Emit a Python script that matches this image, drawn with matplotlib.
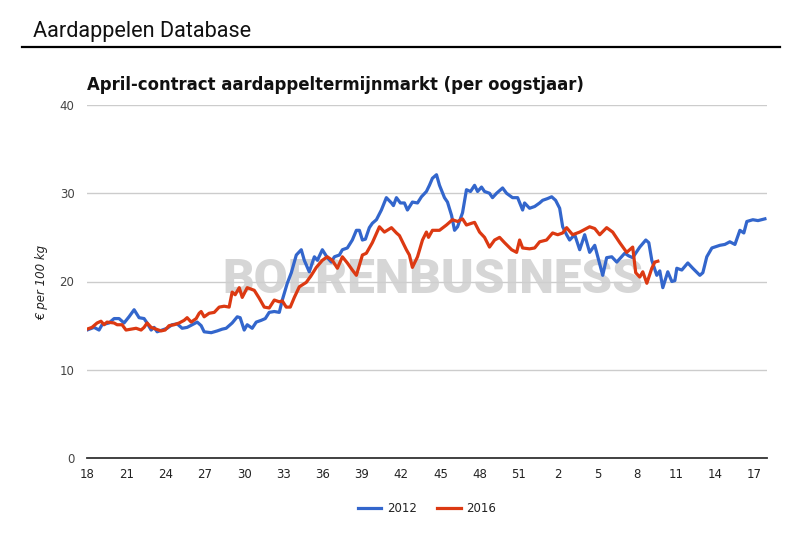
import matplotlib
matplotlib.use("Agg")
import matplotlib.pyplot as plt
import numpy as np

# Gegevens (weken vanaf week 18, prijs in euro per 100 kg)
week_labels = ["18", "21", "24", "27", "30", "33", "36", "39", "42", "45",
               "48", "51", "2", "5", "8", "11", "14", "17"]

x_2012 = [0.0, 0.54, 0.92, 1.15, 1.68, 2.07, 2.45, 2.83, 3.21, 3.60,
          3.98, 4.36, 4.59, 4.90, 5.13, 5.36, 5.74, 6.12, 6.50, 6.89,
          7.27, 7.65, 8.03, 8.42, 8.72, 8.95, 9.49, 9.95, 10.33, 10.63,
          11.09, 11.48, 11.70, 12.01, 12.24, 12.62, 12.93, 13.31, 13.62, 13.92,
          14.31, 14.69, 14.92, 15.30, 15.61, 15.99, 16.37, 16.60, 16.98, 17.37,
          17.60, 17.98, 18.36, 18.67, 18.90, 19.28, 19.51, 19.89, 20.27, 20.58,
          20.81, 21.04, 21.27, 21.57, 21.80, 22.11, 22.49, 22.87, 23.26, 23.41,
          23.64, 23.94, 24.25, 24.48, 24.86, 25.25, 25.55, 25.93, 26.16, 26.39,
          26.70, 26.93, 27.31, 27.54, 27.85, 28.08, 28.31, 28.69, 28.99, 29.30,
          29.61, 29.84, 30.14, 30.37, 30.75, 30.98, 31.29, 31.75, 32.05, 32.51,
          32.90, 33.28, 33.43, 33.81, 34.20, 34.58, 34.81, 35.19, 35.50, 35.80,
          36.11, 36.34, 36.64, 36.87, 37.26, 37.64, 38.02, 38.40, 38.79, 39.02,
          39.40, 39.70, 40.09, 40.47, 41.08, 41.39, 41.69, 42.23, 42.69, 42.92,
          43.15, 43.53, 43.76, 43.99, 44.37, 44.68, 44.91, 45.06, 45.44, 45.90,
          46.28, 46.82, 47.05, 47.35, 47.74, 48.35, 48.73, 49.11, 49.50, 49.88,
          50.18, 50.41, 50.87, 51.26, 51.79]
prijs_2012 = [14.5, 14.8, 14.5, 15.1, 15.3, 15.8, 15.8, 15.3, 16.0, 16.8,
              15.9, 15.8, 15.3, 14.5, 14.8, 14.3, 14.5, 14.7, 15.1, 15.2,
              14.7, 14.8, 15.1, 15.4, 15.0, 14.3, 14.2, 14.4, 14.6, 14.7,
              15.3, 16.0, 15.9, 14.5, 15.1, 14.7, 15.4, 15.6, 15.8, 16.5,
              16.6, 16.5, 17.9, 19.8, 21.0, 23.0, 23.6, 22.4, 21.1, 22.8,
              22.4, 23.6, 22.7, 22.2, 22.8, 23.0, 23.6, 23.8, 24.7, 25.8,
              25.8, 24.7, 24.8, 26.1, 26.6, 27.0, 28.1, 29.5, 28.9, 28.6,
              29.5, 28.9, 28.9, 28.1, 29.0, 28.9, 29.6, 30.2, 30.9, 31.7,
              32.1, 30.9, 29.5, 29.0, 27.5, 25.8, 26.2, 27.8, 30.4, 30.2,
              30.9, 30.2, 30.7, 30.2, 30.0, 29.5, 30.0, 30.6, 30.0, 29.5,
              29.5, 28.1, 28.9, 28.3, 28.5, 28.9, 29.2, 29.4, 29.6, 29.2,
              28.3, 26.2, 25.3, 24.7, 25.3, 23.6, 25.3, 23.3, 24.1, 22.8,
              20.7, 22.7, 22.8, 22.2, 23.2, 22.9, 22.7, 23.9, 24.7, 24.4,
              22.4, 20.7, 21.2, 19.3, 21.1, 20.0, 20.1, 21.5, 21.3, 22.1,
              21.5, 20.7, 21.0, 22.8, 23.8, 24.1, 24.2, 24.5, 24.2, 25.8,
              25.5, 26.8, 27.0, 26.9, 27.1]

x_2016 = [0.0, 0.38, 0.77, 1.07, 1.30, 1.53, 2.07, 2.30, 2.68, 2.98,
          3.37, 3.75, 4.13, 4.36, 4.59, 4.90, 5.28, 5.66, 5.97, 6.27,
          6.66, 7.04, 7.42, 7.65, 7.96, 8.34, 8.57, 8.72, 8.95, 9.33,
          9.72, 10.10, 10.48, 10.86, 11.09, 11.32, 11.63, 11.86, 12.24, 12.78,
          13.16, 13.54, 13.92, 14.31, 14.69, 14.92, 15.22, 15.53, 15.84, 16.22,
          16.75, 17.14, 17.52, 17.98, 18.36, 18.74, 19.13, 19.51, 19.89, 20.27,
          20.58, 21.04, 21.34, 21.80, 22.34, 22.72, 23.26, 23.64, 23.87, 24.40,
          24.63, 24.86, 25.25, 25.63, 25.93, 26.09, 26.39, 26.93, 27.46, 27.92,
          28.31, 28.69, 28.99, 29.38, 29.61, 29.99, 30.37, 30.75, 31.14, 31.52,
          31.90, 32.44, 32.82, 33.05, 33.28, 33.81, 34.20, 34.58, 35.11, 35.57,
          35.96, 36.34, 36.64, 37.10, 37.64, 38.40, 38.79, 39.17, 39.70, 40.16,
          40.70, 41.23, 41.69, 41.92, 42.23, 42.46, 42.77, 43.15, 43.38, 43.61]
prijs_2016 = [14.6, 14.8, 15.3, 15.5, 15.1, 15.4, 15.3, 15.1, 15.1, 14.5,
              14.6, 14.7, 14.5, 14.8, 15.3, 14.8, 14.6, 14.4, 14.5, 15.0,
              15.1, 15.3, 15.6, 15.9, 15.4, 15.8, 16.4, 16.6, 16.0, 16.4,
              16.5, 17.1, 17.2, 17.1, 18.8, 18.5, 19.3, 18.2, 19.3, 19.0,
              18.1, 17.1, 17.0, 17.9, 17.7, 17.8, 17.1, 17.1, 18.2, 19.4,
              19.9, 20.7, 21.6, 22.4, 22.8, 22.4, 21.5, 22.8, 22.1, 21.3,
              20.7, 23.0, 23.2, 24.4, 26.2, 25.6, 26.1, 25.5, 25.2, 23.6,
              23.0, 21.6, 22.8, 24.7, 25.6, 25.0, 25.8, 25.8, 26.4, 27.0,
              26.8, 27.1, 26.4, 26.6, 26.7, 25.6, 25.0, 23.9, 24.7, 25.0,
              24.4, 23.6, 23.3, 24.7, 23.8, 23.7, 23.8, 24.5, 24.7, 25.5,
              25.3, 25.5, 26.1, 25.3, 25.6, 26.2, 26.0, 25.3, 26.1, 25.6,
              24.4, 23.3, 23.9, 21.0, 20.5, 21.1, 19.8, 21.5, 22.2, 22.3]

y_ticks = [0, 10, 20, 30, 40]

blauw = "#3366CC"
rood = "#DC3912"

fig = plt.figure(figsize=(7.92, 5.4), dpi=100)
fig.patch.set_facecolor("white")

# Kop bovenaan met lijn
fig.text(33 / 792, 1 - 37.5 / 540, "Aardappelen Database", family="Roboto",
         fontsize=15.6, color="#111111", va="baseline", ha="left")
fig.add_artist(plt.Line2D([22 / 792, 780 / 792], [1 - 46.5 / 540, 1 - 46.5 / 540],
                          color="black", lw=1.6, transform=fig.transFigure))

ax = fig.add_axes([87 / 792, 82 / 540, 680 / 792, 353 / 540])

# Grafiek titel
fig.text(87 / 792, 1 - 90 / 540, "April-contract aardappeltermijnmarkt (per oogstjaar)",
         fontsize=11.9, fontweight="bold", color="#111111", va="baseline", ha="left")

# Watermerk
ax.text(0.508, 0.504, "BOERENBUSINESS", transform=ax.transAxes, ha="center", va="center",
        family="Roboto", fontweight="black", fontsize=35.5, color="#cfcfcf", alpha=0.85, zorder=1)

ax.plot(x_2012, prijs_2012, color=blauw, lw=2.3, label="2012", zorder=3,
        solid_joinstyle="round")
ax.plot(x_2016, prijs_2016, color=rood, lw=2.3, label="2016", zorder=4,
        solid_joinstyle="round")

ax.set_xlim(0, 51.95)
ax.set_ylim(0, 40)
ax.set_yticks(y_ticks)
ax.set_xticks(np.arange(0, 3 * len(week_labels), 3))
ax.set_xticklabels(week_labels)
ax.grid(axis="y", color="#cccccc", lw=1)
ax.set_axisbelow(True)
for s in ["top", "right", "left"]:
    ax.spines[s].set_visible(False)
ax.spines["bottom"].set_color("#333333")
ax.spines["bottom"].set_linewidth(1.3)
ax.spines["bottom"].set_zorder(5)
ax.tick_params(axis="both", length=0)
ax.tick_params(axis="y", pad=9, labelsize=8.5, labelcolor="#444444")
ax.tick_params(axis="x", pad=7, labelsize=8.5, labelcolor="#222222")

fig.text(42 / 792, 1 - 282 / 540, "€ per 100 kg", rotation=90, fontstyle="italic",
         fontsize=8.5, color="#222222", ha="center", va="center")

leg = ax.legend(loc="center", bbox_to_anchor=(0.5, -(509 - 458) / 353),
                ncol=2, frameon=False, fontsize=8.5, handlelength=2.0, handletextpad=0.5,
                columnspacing=1.7)
for t in leg.get_texts():
    t.set_color("#222222")

plt.savefig("out.png", dpi=100)
